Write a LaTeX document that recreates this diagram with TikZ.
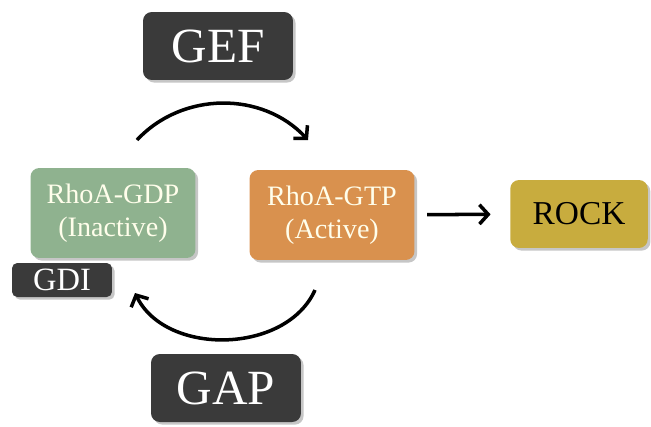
\documentclass[tikz,border=0pt]{standalone}
\usepackage{fontspec}
\setmainfont{Liberation Serif}
\usetikzlibrary{arrows.meta,shadows,positioning}

\definecolor{gdpgreen}{HTML}{8FB28F}
\definecolor{gtporange}{HTML}{D9914E}
\definecolor{rockgold}{HTML}{C8AC3E}
\definecolor{regdark}{HTML}{3A3A3A}

\begin{document}
\begin{tikzpicture}[x=0.02cm,y=-0.02cm,>={Straight Barb[length=5pt,width=11pt]},
	box/.style={rounded corners=5pt,align=center,inner sep=0pt,
		drop shadow={shadow xshift=1.5pt,shadow yshift=-1.5pt,opacity=0.45}},
	regbox/.style={box,fill=regdark,text=white,minimum width=3cm,minimum height=1.36cm,font=\fontsize{28}{30}\selectfont},
	rhobox/.style={box,minimum width=3.3cm,minimum height=1.8cm,text=white!92!yellow,font=\fontsize{16}{19}\selectfont},
	flow/.style={line width=2pt}]

	\useasboundingbox (0,0) rectangle (651,426);

	\node [regbox] at (218,46)	(gef)					{GEF};
	\node [regbox] at (226,388)	(gap)					{GAP};
	\node [rhobox,fill=gdpgreen] at (113,213)	(gdp)	{RhoA-GDP\\(Inactive)};
	\node [rhobox,fill=gtporange] at (332,215)	(gtp)	{RhoA-GTP\\(Active)};
	\node [box,fill=regdark,text=white,minimum width=2cm,minimum height=0.68cm,rounded corners=3pt,
		font=\fontsize{18.5}{19}\selectfont] at (62,280)	(gdi)	{GDI};
	\node [box,fill=rockgold,text=black,minimum width=2.75cm,minimum height=1.36cm,
		font=\fontsize{19}{20}\selectfont] at (579,214)	(rock)	{ROCK};

	\coordinate (act_s) at (137,140);
	\coordinate (act_e) at (308,140);
	\coordinate (inact_s) at (315,290);
	\coordinate (inact_e) at (135,293);

	\path [->,flow]	(act_s) edge [bend left=47]		(act_e)
				(inact_s) edge [bend left=65]	(inact_e)
				(gtp) edge [shorten <=7pt,shorten >=11pt]	(rock);

\end{tikzpicture}
\end{document}
